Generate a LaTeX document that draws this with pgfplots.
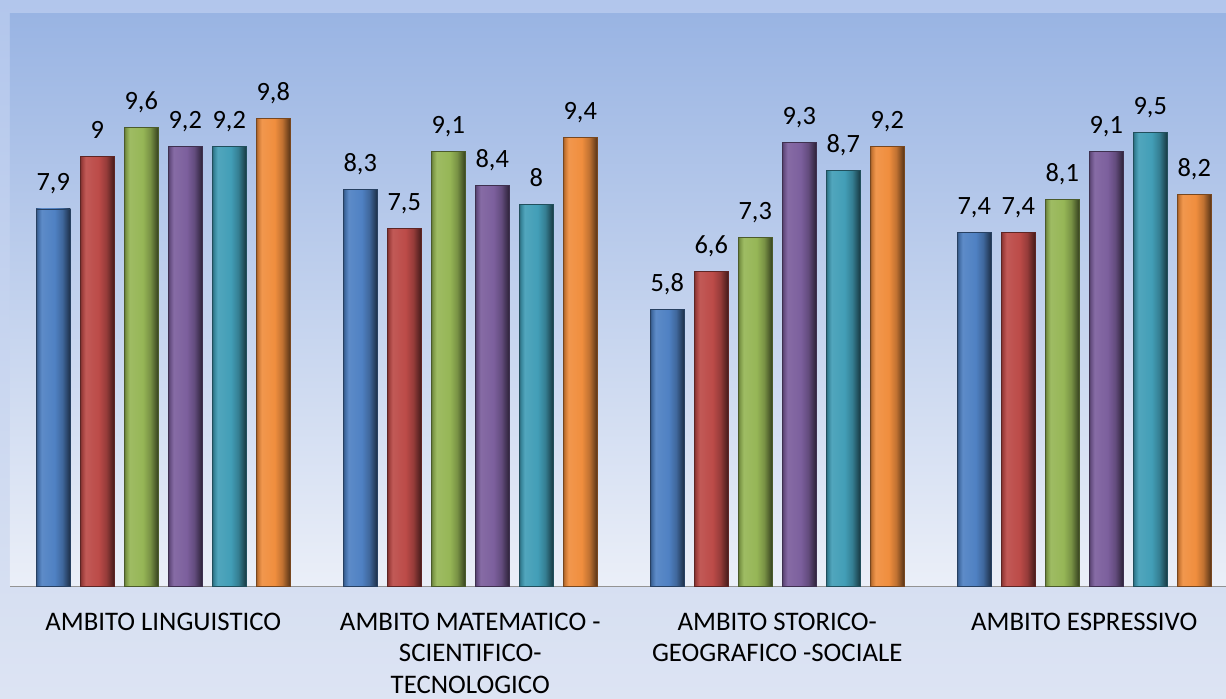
\documentclass[border=0pt]{standalone}
\usepackage{fontspec}
\setmainfont{Carlito}
\usepackage{pgfplots}
\pgfplotsset{compat=1.18}
\definecolor{bg1}{RGB}{178,198,236}
\definecolor{bg2}{RGB}{221,228,243}
\definecolor{pa1}{RGB}{153,180,227}
\definecolor{pa2}{RGB}{235,239,248}
\definecolor{cb}{RGB}{79,129,195}
\definecolor{cr}{RGB}{188,75,72}
\definecolor{cg}{RGB}{150,182,86}
\definecolor{cp}{RGB}{124,95,157}
\definecolor{ct}{RGB}{66,158,183}
\definecolor{co}{RGB}{240,142,62}
\newcommand{\mkshade}[1]{\pgfdeclarehorizontalshading{sh#1}{100bp}{color(0bp)=(#1!65!black); color(25bp)=(#1!65!black); color(28bp)=(#1!85!black); color(33bp)=(#1!92!white); color(52bp)=(#1); color(63bp)=(#1!80!black); color(75bp)=(#1!35!black); color(100bp)=(#1!35!black)}}
\mkshade{cb}\mkshade{cr}\mkshade{cg}\mkshade{cp}\mkshade{ct}\mkshade{co}
\pgfplotsset{
  mybar/.style={draw=#1!50!black, line width=0.4pt, shade, shading=sh#1}
}
\newcommand{\onebar}[4]{\addplot[mybar=#1, bar shift=#2] coordinates {(#3,#4)};}
\begin{document}
\begin{tikzpicture}
\useasboundingbox (0,0) rectangle (613pt,349pt);
\clip (0,0) rectangle (613pt,349pt);
\fill[top color=bg1, bottom color=bg2] (0,0) rectangle (613pt,349pt);
\begin{axis}[
  at={(4.9pt,55.75pt)}, anchor=south west,
  scale only axis, width=613.95pt, height=286.75pt,
  xmin=-0.5, xmax=3.5, ymin=0, ymax=12,
  axis x line=bottom, axis y line=none,
  x axis line style={-, draw=gray!85, line width=0.8pt},
  xtick={0,1,2,3},
  xticklabels={{AMBITO LINGUISTICO},{AMBITO MATEMATICO -\\SCIENTIFICO-\\TECNOLOGICO},{AMBITO STORICO-\\GEOGRAFICO -SOCIALE},{AMBITO ESPRESSIVO}},
  xticklabel style={font=\fontsize{13.4}{15.7}\selectfont, align=center, anchor=north, inner sep=0pt, yshift=-13.1pt},
  major tick length=0pt,
  ytick=\empty,
  axis background/.style={top color=pa1, bottom color=pa2},
  ybar, bar width=17.15pt,
  nodes near coords,
  nodes near coords style={font=\fontsize{13.2}{15}\selectfont, anchor=base, yshift=9pt, inner sep=0pt, text=black},
  /pgf/number format/use comma,
  /pgf/number format/assume math mode=true,
]
% AMBITO LINGUISTICO
\onebar{cb}{-55pt}{0}{7.9}
\onebar{cr}{-33pt}{0}{9}
\onebar{cg}{-11pt}{0}{9.6}
\onebar{cp}{11pt}{0}{9.2}
\onebar{ct}{33pt}{0}{9.2}
\onebar{co}{55pt}{0}{9.8}
% AMBITO MATEMATICO
\onebar{cb}{-55pt}{1}{8.3}
\onebar{cr}{-33pt}{1}{7.5}
\onebar{cg}{-11pt}{1}{9.1}
\onebar{cp}{11pt}{1}{8.4}
\onebar{ct}{33pt}{1}{8}
\onebar{co}{55pt}{1}{9.4}
% AMBITO STORICO
\onebar{cb}{-55pt}{2}{5.8}
\onebar{cr}{-33pt}{2}{6.6}
\onebar{cg}{-11pt}{2}{7.3}
\onebar{cp}{11pt}{2}{9.3}
\onebar{ct}{33pt}{2}{8.7}
\onebar{co}{55pt}{2}{9.2}
% AMBITO ESPRESSIVO
\onebar{cb}{-55pt}{3}{7.4}
\onebar{cr}{-33pt}{3}{7.4}
\onebar{cg}{-11pt}{3}{8.1}
\onebar{cp}{11pt}{3}{9.1}
\onebar{ct}{33pt}{3}{9.5}
\onebar{co}{55pt}{3}{8.2}
\end{axis}
\end{tikzpicture}
\end{document}
